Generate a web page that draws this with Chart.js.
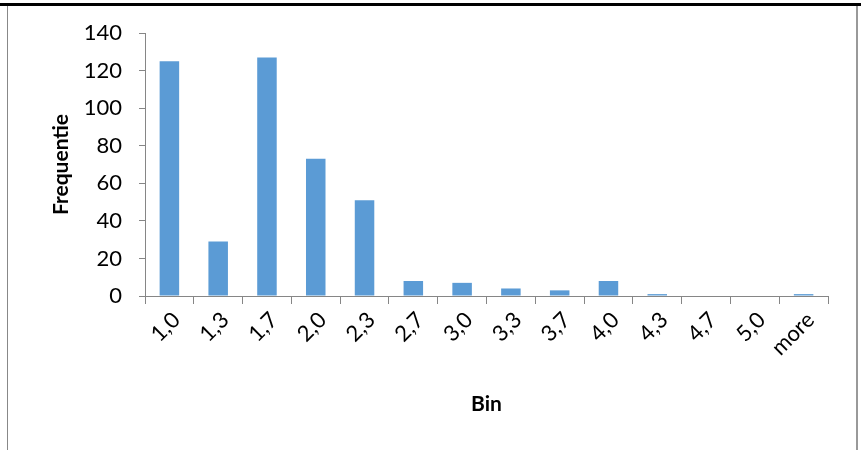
<!DOCTYPE html>
<html>
<head>
<meta charset="utf-8">
<script src="https://cdn.jsdelivr.net/npm/chart.js@4"></script>
<style>
  html, body { margin: 0; padding: 0; background: #fff; }
  #wrap { position: relative; width: 861px; height: 450px; overflow: hidden; }
  #topLine { position: absolute; left: 0; top: 3px; width: 861px; height: 3px; background: #000; }
  #leftLine { position: absolute; left: 7px; top: 6px; width: 1px; height: 444px; background: #888; }
  #rightLine { position: absolute; left: 856px; top: 6px; width: 2px; height: 444px; background: #999; }
  canvas { position: absolute; left: 0; top: 0; }
</style>
</head>
<body>
<div id="wrap">
  <canvas id="myChart" width="861" height="450"></canvas>
  <div id="topLine"></div>
  <div id="leftLine"></div>
  <div id="rightLine"></div>
</div>
<script>
const bins = ['1,0', '1,3', '1,7', '2,0', '2,3', '2,7', '3,0', '3,3', '3,7', '4,0', '4,3', '4,7', '5,0', 'more'];
const frequencies = [125, 29, 127, 73, 51, 8, 7, 4, 3, 8, 1, 0, 0, 1];
const yTicks = [0, 20, 40, 60, 80, 100, 120, 140];

const fontFamily = 'Lato, "Open Sans", sans-serif';
const axisGrey = '#868686';

const ctx = document.getElementById('myChart').getContext('2d');

const myChart = new Chart(ctx, {
  type: 'bar',
  data: {
    labels: bins,
    datasets: [{
      label: 'Frequentie',
      data: frequencies,
      backgroundColor: '#5b9bd5',
      borderWidth: 0,
      barPercentage: 0.8,
      categoryPercentage: 0.5
    }]
  },
  options: {
    responsive: false,
    animation: false,
    layout: {
      padding: { top: 33, right: 33, left: 0, bottom: 0 }
    },
    plugins: {
      legend: { display: false },
      tooltip: { enabled: false }
    },
    scales: {
      x: {
        grid: {
          display: true,
          drawOnChartArea: false,
          color: axisGrey,
          tickLength: 8,
          offset: true
        },
        border: { color: axisGrey, width: 1 },
        ticks: {
          color: '#000',
          font: { family: fontFamily, size: 22 },
          minRotation: 45,
          maxRotation: 45,
          padding: 3,
          labelOffset: 7
        },
        title: {
          display: true,
          text: 'Bin',
          color: '#000',
          font: { family: fontFamily, size: 21, weight: 'bold' },
          padding: { top: 0, bottom: 33 }
        },
        afterFit: function (scale) {
          scale.height = 450 - 296;
        }
      },
      y: {
        min: 0,
        max: 140,
        afterBuildTicks: function (scale) {
          scale.ticks = yTicks.map(v => ({ value: v }));
        },
        grid: {
          display: true,
          drawOnChartArea: false,
          color: axisGrey,
          tickLength: 6
        },
        border: { color: axisGrey, width: 1 },
        ticks: {
          color: '#000',
          font: { family: fontFamily, size: 22 },
          padding: 17
        },
        title: {
          display: true,
          text: 'Frequentie',
          color: '#000',
          font: { family: fontFamily, size: 21, weight: 'bold' },
          padding: { top: 49, bottom: 0 }
        },
        afterFit: function (scale) {
          scale.width = 145;
        }
      }
    }
  }
});
</script>
</body>
</html>
